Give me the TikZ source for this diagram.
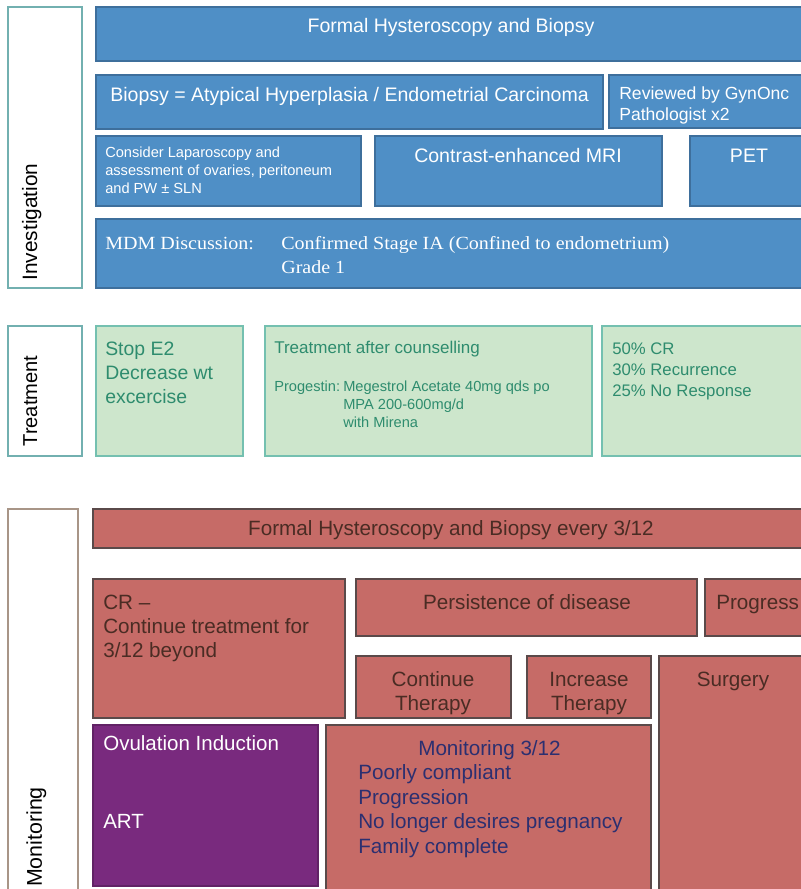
\documentclass[tikz,border=0pt]{standalone}
\usepackage{fontspec}
\setmainfont{Liberation Sans}
\newfontfamily\mdmfont[FakeStretch=1.08]{Liberation Serif}
\definecolor{invblue}{HTML}{4F8FC6}
\definecolor{invborder}{HTML}{3E6F9C}
\definecolor{trgreen}{HTML}{CDE6CC}
\definecolor{trborder}{HTML}{74C0B0}
\definecolor{trtext}{HTML}{2E8C6E}
\definecolor{monred}{HTML}{C66B67}
\definecolor{monborder}{HTML}{5A4A4A}
\definecolor{montext}{HTML}{4A2C24}
\definecolor{ovpurple}{HTML}{792A7E}
\definecolor{monnavy}{HTML}{2C2F70}
\definecolor{labelborder}{HTML}{72B0B0}
\definecolor{monlabelborder}{HTML}{A89587}
\newcommand{\fsz}[2]{\fontsize{#1}{#2}\selectfont}

\begin{document}
\begin{tikzpicture}[x=0.025cm, y=-0.025cm,
    invbox/.style={fill=invblue, draw=invborder, line width=0.8pt},
    trbox/.style={fill=trgreen, draw=trborder, line width=0.8pt},
    monbox/.style={fill=monred, draw=monborder, line width=0.8pt},
    sidebox/.style={fill=white, draw=labelborder, line width=0.8pt},
    sidelabel/.style={rotate=90, anchor=base, inner sep=0pt},
    txt/.style={inner sep=0pt, anchor=base west, align=left},
    ctxt/.style={inner sep=0pt, anchor=base, align=center}]
  \useasboundingbox (0,0) rectangle (801,889);

  % ---------- Investigation ----------
  % (multi-line texts are placed at the baseline of their last line)
  \draw[sidebox] (8,7) rectangle (82,288);
  \node[sidelabel, font=\fsz{14.8}{17}] (invlabel) at (37,222) {Investigation};

  \draw[invbox] (96,7) rectangle (810,61);
  \node[ctxt, white, font=\fsz{13.9}{16}] (formal) at (451,32) {Formal Hysteroscopy and Biopsy};

  \draw[invbox] (96,75) rectangle (603,129);
  \node[txt, white, font=\fsz{13.9}{16}] (biopsy) at (110,101)
    {Biopsy = Atypical Hyperplasia / Endometrial Carcinoma};
  \draw[invbox] (609,75) rectangle (810,128);
  \node[txt, white, font=\fsz{12.5}{14.9}] (reviewed) at (619,120)
    {Reviewed by GynOnc\\Pathologist x2};

  \draw[invbox] (96,136) rectangle (361,206);
  \node[txt, white, font=\fsz{10.4}{12.8}] (lapscope) at (105,193)
    {Consider Laparoscopy and\\assessment of ovaries, peritoneum\\and PW ± SLN};
  \draw[invbox] (375,136) rectangle (662,206);
  \node[ctxt, white, font=\fsz{13.9}{16}] (mri) at (518,162) {Contrast-enhanced MRI};
  \draw[invbox] (690,136) rectangle (810,206);
  \node[ctxt, white, font=\fsz{13.9}{16}] (pet) at (749,162) {PET};

  \draw[invbox] (96,219) rectangle (810,288);
  \node[txt, white, font=\mdmfont\fsz{13.2}{17}] (mdm) at (105,249) {MDM Discussion:};
  \node[txt, white, font=\mdmfont\fsz{13.2}{17}] (stage) at (281,273)
    {Confirmed Stage IA (Confined to endometrium)\\Grade 1};

  % ---------- Treatment ----------
  \draw[sidebox] (8,326) rectangle (82,456);
  \node[sidelabel, font=\fsz{14.3}{17}] (trlabel) at (37,401) {Treatment};

  \draw[trbox] (96,326) rectangle (243,456);
  \node[txt, trtext, font=\fsz{13.8}{17}] (lifestyle) at (105,403)
    {Stop E2\\Decrease wt\\excercise};

  \draw[trbox] (265,326) rectangle (592,456);
  \node[txt, trtext, font=\fsz{12.1}{14}] (counsel) at (274,353) {Treatment after counselling};
  \node[txt, trtext, font=\fsz{10.4}{12.8}] (progestin) at (274,391) {Progestin:};
  \node[txt, trtext, font=\fsz{10.4}{12.8}] (drugs) at (343,427)
    {Megestrol Acetate 40mg qds po\\MPA 200-600mg/d\\with Mirena};

  \draw[trbox] (602,326) rectangle (810,456);
  \node[txt, trtext, font=\fsz{11.9}{14.9}] (outcome) at (612,396)
    {50\% CR\\30\% Recurrence\\25\% No Response};

  % ---------- Monitoring ----------
  \draw[sidebox, draw=monlabelborder] (8,509) rectangle (78,900);
  \node[sidelabel, font=\fsz{15.2}{18}] (monlabel) at (42,837) {Monitoring};

  \draw[monbox] (93,509) rectangle (810,548);
  \node[ctxt, montext, font=\fsz{14.7}{17}] (followup) at (451,535)
    {Formal Hysteroscopy and Biopsy every 3/12};

  \draw[monbox] (93,579) rectangle (345,718);
  \node[txt, montext, font=\fsz{14.7}{17}] (cr) at (103,657)
    {CR --\\Continue treatment for\\3/12 beyond};

  \draw[monbox] (356,579) rectangle (697,636);
  \node[ctxt, montext, font=\fsz{14.7}{17}] (persist) at (527,609) {Persistence of disease};
  \draw[monbox] (705,579) rectangle (810,636);
  \node[txt, montext, font=\fsz{14.7}{17}] (progress) at (716,609) {Progress};

  \draw[monbox] (356,656) rectangle (511,718);
  \node[ctxt, montext, font=\fsz{14.7}{17}] (contther) at (433,710) {Continue\\Therapy};
  \draw[monbox] (527,656) rectangle (651,718);
  \node[ctxt, montext, font=\fsz{14.7}{17}] (incther) at (589,710) {Increase\\Therapy};
  \draw[monbox] (659,656) rectangle (810,900);
  \node[ctxt, montext, font=\fsz{14.7}{17}] (surgery) at (733,686) {Surgery};

  \draw[fill=ovpurple, draw=ovpurple!80!black, line width=0.8pt] (93,725) rectangle (318,886);
  \node[txt, white, font=\fsz{14.6}{16}] (ovulation) at (103,750) {Ovulation Induction};
  \node[txt, white, font=\fsz{14.6}{16}] (art) at (103,828) {ART};

  \draw[monbox] (326,725) rectangle (651,900);
  \node[txt, monnavy, font=\fsz{14.7}{17}] (mon312) at (418,755) {Monitoring 3/12};
  \node[txt, monnavy, font=\fsz{14.7}{17.4}] (reasons) at (358,853)
    {Poorly compliant\\Progression\\No longer desires pregnancy\\Family complete};
\end{tikzpicture}
\end{document}
